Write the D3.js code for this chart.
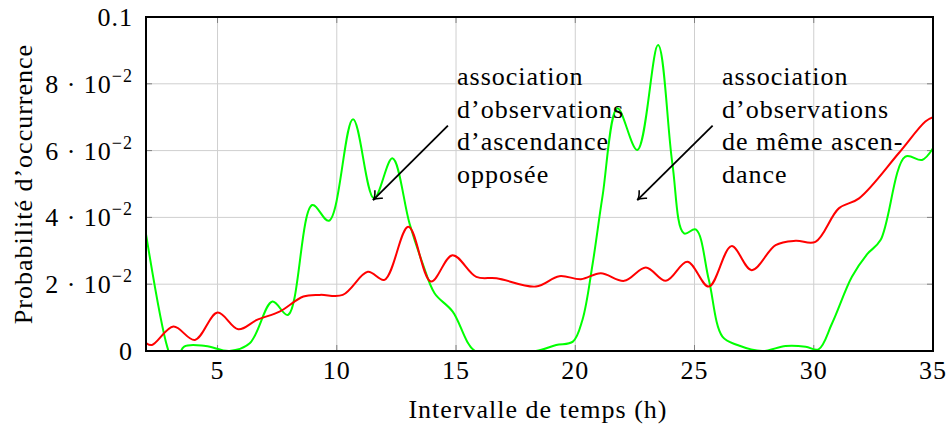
<!DOCTYPE html>
<html><head><meta charset="utf-8">
<script src="https://cdn.jsdelivr.net/npm/d3@7"></script>
<style>
html,body{margin:0;padding:0;background:#fff;}
text{font-family:"Liberation Serif","Times New Roman",serif;fill:#000;letter-spacing:1px;}
</style></head>
<body><svg id="c" width="948" height="425"></svg>
<script>
// ---- data ----
const redX = [2, 2.25, 3.15, 4.05, 5.0, 5.87, 6.65, 7.6, 8.6, 9.3, 10.25, 11.3, 12.0, 13.0, 13.95, 14.85, 15.85, 16.7, 18.35, 19.33, 20.24, 21.07, 22.05, 22.96, 23.8, 24.7, 25.6, 26.55, 27.4, 28.4, 29.24, 30.07, 31.05, 31.9, 33.56, 34.68, 35];
const redY = [0.0024, 0.0018, 0.0073, 0.0033, 0.0115, 0.0065, 0.0093, 0.0118, 0.0163, 0.0168, 0.0168, 0.0237, 0.0213, 0.0372, 0.0208, 0.0287, 0.0222, 0.0218, 0.0193, 0.0224, 0.0215, 0.0233, 0.021, 0.025, 0.021, 0.0267, 0.0193, 0.0314, 0.0242, 0.0317, 0.033, 0.0327, 0.0427, 0.0457, 0.0592, 0.0687, 0.070];
const greenX = [2, 2.9, 3.2, 3.6, 4.5, 5.5, 6.35, 7.3, 7.95, 8.97, 9.67, 10.68, 11.56, 12.33, 13.05, 13.6, 14.1, 14.86, 15.8, 17, 18.35, 19.2, 19.9, 20.3, 20.73, 21.14, 21.77, 22.6, 23.47, 24.07, 24.56, 25.05, 25.6, 26.17, 26.8, 27.84, 28.82, 29.66, 30.2, 30.77, 31.6, 32.24, 32.8, 33.84, 34.54, 35];
const greenY = [0.035, 0.001, -0.004, 0.0013, 0.0015, 0, 0.0023, 0.0148, 0.0108, 0.0437, 0.039, 0.0694, 0.0457, 0.0577, 0.0382, 0.0262, 0.0173, 0.0118, 0, 0, 0, 0.0018, 0.0028, 0.0093, 0.0262, 0.0462, 0.0727, 0.0602, 0.0916, 0.0562, 0.0352, 0.0364, 0.0213, 0.0043, 0.0018, 0, 0.0015, 0.0013, 0.0005, 0.0083, 0.0222, 0.029, 0.0332, 0.0582, 0.0572, 0.0607];
const xTicks = [5, 10, 15, 20, 25, 30, 35];
const yTicks = [0, 0.02, 0.04, 0.06, 0.08, 0.1];
const yTickLabels = [["0", null], ["2\u00A0\u00B7\u00A010", "\u22122"], ["4\u00A0\u00B7\u00A010", "\u22122"], ["6\u00A0\u00B7\u00A010", "\u22122"], ["8\u00A0\u00B7\u00A010", "\u22122"], ["0.1", null]];
const annot1 = ["association", "d\u2019observations", "d\u2019ascendance", "opposée"];
const annot2 = ["association", "d\u2019observations", "de même ascen-", "dance"];
const arrowFrom = [[14.66, 0.0675], [25.76, 0.0675]];
const arrowTo = [[11.52, 0.0452], [22.6, 0.0452]];
const xTitle = "Intervalle de temps (h)";
const yTitle = "Probabilité d\u2019occurrence";

// ---- layout ----
const L = 146, R = 933, T = 17, B = 351;
const FS = 26;
const svg = d3.select("#c");
const x = d3.scaleLinear().domain([2, 35]).range([L, R]);
const y = d3.scaleLinear().domain([0, 0.1]).range([B, T]);

svg.append("defs").append("clipPath").attr("id", "clip")
  .append("rect").attr("x", L).attr("y", T).attr("width", R - L).attr("height", B - T);

// grid
const g = svg.append("g");
g.selectAll(".gx").data(xTicks).join("line")
  .attr("x1", d => x(d)).attr("x2", d => x(d)).attr("y1", T).attr("y2", B)
  .attr("stroke", "#cfcfcf").attr("stroke-width", 1);
g.selectAll(".gy").data(yTicks).join("line")
  .attr("y1", d => y(d)).attr("y2", d => y(d)).attr("x1", L).attr("x2", R)
  .attr("stroke", "#cfcfcf").attr("stroke-width", 1);
// ticks (inside, all four sides)
const tk = 6;
xTicks.forEach(d => {
  g.append("line").attr("x1", x(d)).attr("x2", x(d)).attr("y1", B).attr("y2", B - tk).attr("stroke", "#808080");
  g.append("line").attr("x1", x(d)).attr("x2", x(d)).attr("y1", T).attr("y2", T + tk).attr("stroke", "#808080");
});
yTicks.forEach(d => {
  g.append("line").attr("y1", y(d)).attr("y2", y(d)).attr("x1", L).attr("x2", L + tk).attr("stroke", "#808080");
  g.append("line").attr("y1", y(d)).attr("y2", y(d)).attr("x1", R).attr("x2", R - tk).attr("stroke", "#808080");
});

// curves
const line = d3.line().x(d => x(d[0])).y(d => y(d[1])).curve(d3.curveCatmullRom.alpha(0.5));
const plot = svg.append("g").attr("clip-path", "url(#clip)");
plot.append("path").datum(greenX.map((v, i) => [v, greenY[i]]))
  .attr("d", line).attr("fill", "none").attr("stroke", "#00ff00").attr("stroke-width", 2);
plot.append("path").datum(redX.map((v, i) => [v, redY[i]]))
  .attr("d", line).attr("fill", "none").attr("stroke", "#ff0000").attr("stroke-width", 2);

// frame
svg.append("rect").attr("x", L).attr("y", T).attr("width", R - L).attr("height", B - T)
  .attr("fill", "none").attr("stroke", "#000").attr("stroke-width", 2);

// axis tick labels
svg.selectAll(".xl").data(xTicks).join("text")
  .attr("x", d => x(d)).attr("y", B + 28).attr("text-anchor", "middle")
  .attr("font-size", FS).text(d => d);
yTicks.forEach((d, i) => {
  const t = svg.append("text").attr("x", 133).attr("y", y(d) + 9).attr("text-anchor", "end").attr("font-size", FS);
  t.append("tspan").text(yTickLabels[i][0]);
  if (yTickLabels[i][1]) t.append("tspan").attr("dy", -11).attr("font-size", 18).text(yTickLabels[i][1]);
});

// titles
svg.append("text").attr("x", 538).attr("y", 418).attr("text-anchor", "middle").attr("font-size", FS).text(xTitle);
svg.append("text").attr("transform", "translate(32," + ((T + B) / 2) + ") rotate(-90)")
  .attr("text-anchor", "middle").attr("font-size", FS).text(yTitle);

// annotations
function annot(lines, tx, ty) {
  lines.forEach((s, i) => svg.append("text").attr("x", tx).attr("y", ty + i * 32.5).attr("font-size", FS).text(s));
}
annot(annot1, 457, 85);
annot(annot2, 722, 85);

function arrow(x1, y1, x2, y2) {
  svg.append("line").attr("x1", x1).attr("y1", y1).attr("x2", x2).attr("y2", y2).attr("stroke", "#000").attr("stroke-width", 1.8);
  const a = Math.atan2(y2 - y1, x2 - x1), h = 10, w = 0.6;
  const p = d3.path();
  p.moveTo(x2 - h * Math.cos(a - w), y2 - h * Math.sin(a - w));
  p.quadraticCurveTo(x2 - 3 * Math.cos(a), y2 - 3 * Math.sin(a), x2, y2);
  p.quadraticCurveTo(x2 - 3 * Math.cos(a), y2 - 3 * Math.sin(a), x2 - h * Math.cos(a + w), y2 - h * Math.sin(a + w));
  svg.append("path").attr("d", p.toString()).attr("fill", "none").attr("stroke", "#000").attr("stroke-width", 1.6);
}
arrowFrom.forEach((f, i) => arrow(x(f[0]), y(f[1]), x(arrowTo[i][0]), y(arrowTo[i][1])));
</script></body></html>
